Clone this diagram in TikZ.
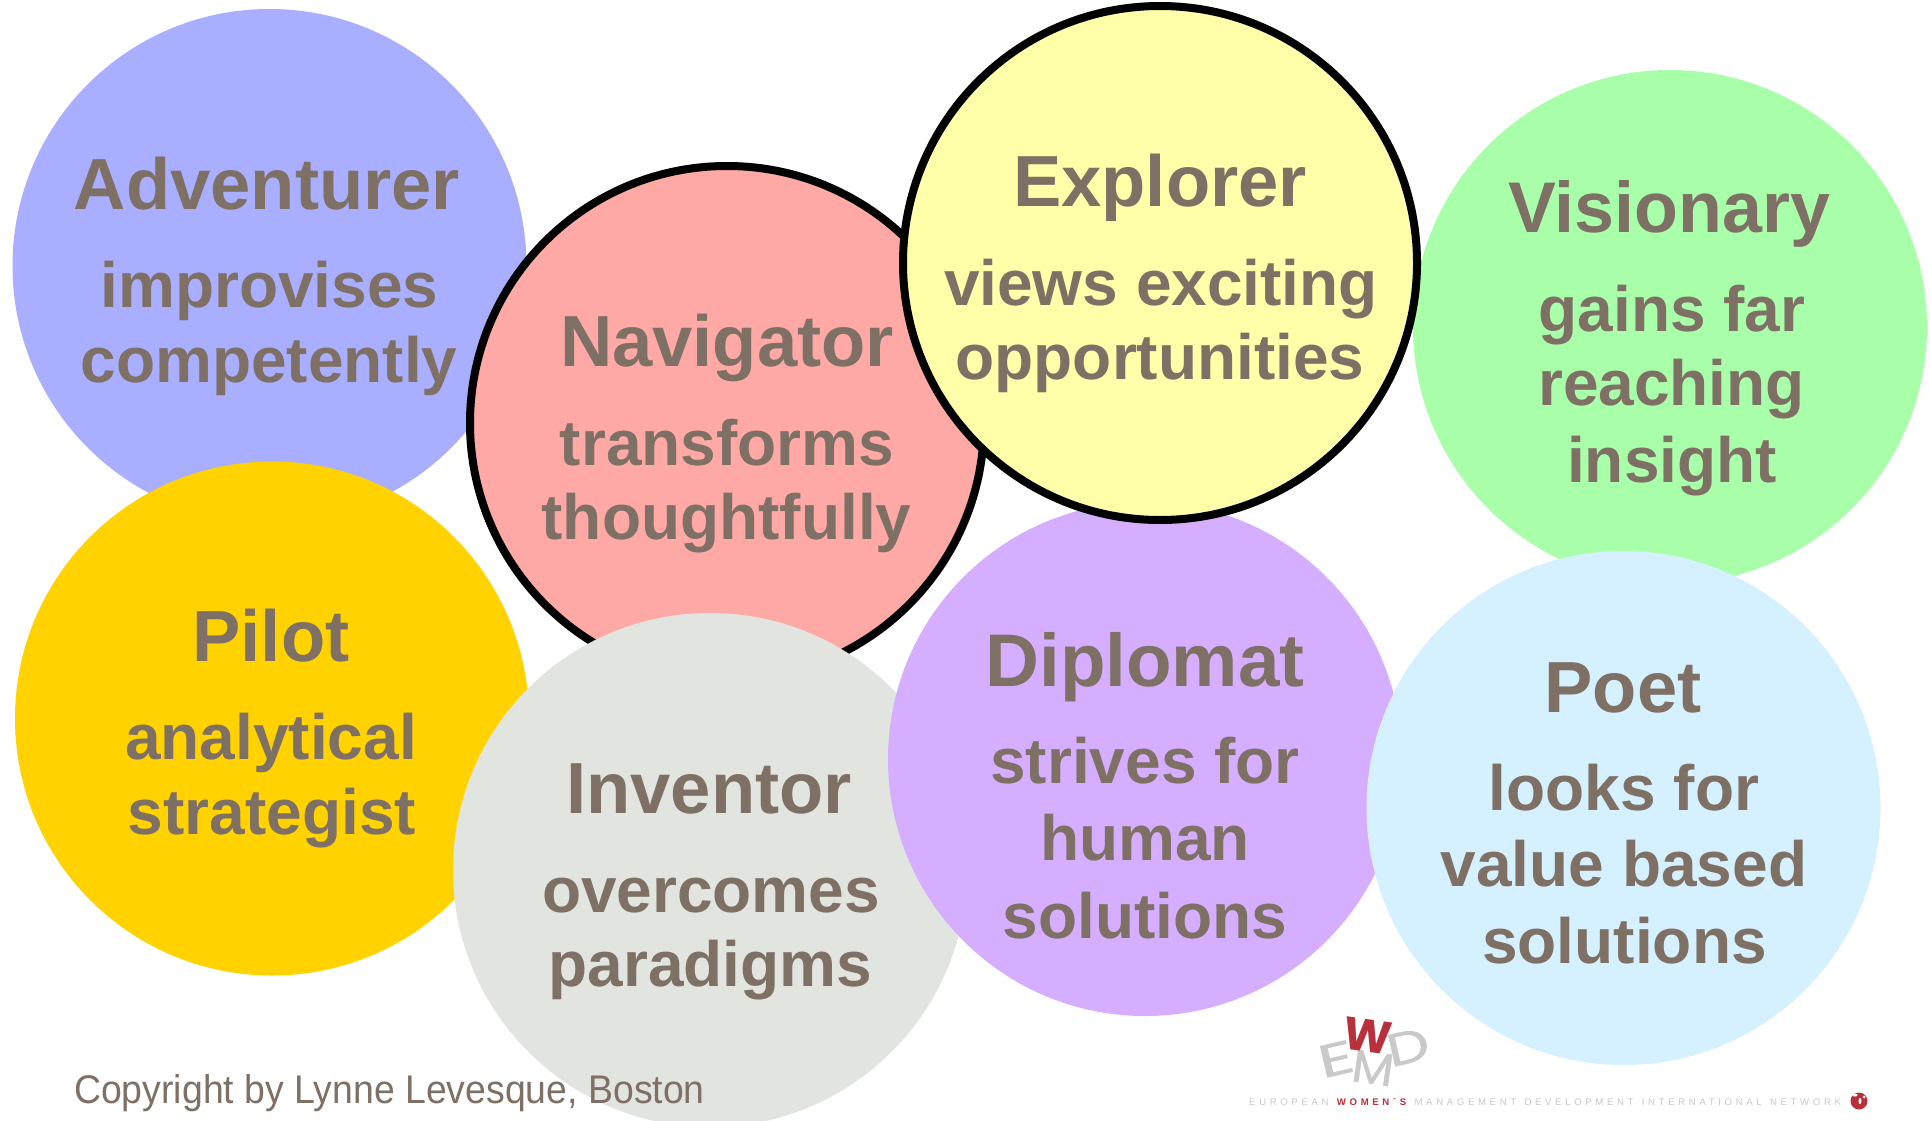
\documentclass[tikz,border=0pt]{standalone}
\usepackage{fontspec}
\setmainfont{Liberation Sans}
\newfontfamily\logofont[FakeBold=0.8]{Poppins}
\newfontfamily\logofontb{Poppins}
\definecolor{txt}{HTML}{7F7065}
\definecolor{cA}{HTML}{A9AEFF}
\definecolor{cN}{HTML}{FFA9A6}
\definecolor{cE}{HTML}{FFFFA9}
\definecolor{cV}{HTML}{A9FFA9}
\definecolor{cP}{HTML}{FFD200}
\definecolor{cI}{HTML}{E2E5DF}
\definecolor{cD}{HTML}{D6AEFF}
\definecolor{cO}{HTML}{D5F0FF}
\definecolor{ered}{HTML}{B8303C}
\definecolor{egrey}{HTML}{C9C9C9}
\tikzset{
  disc/.style={circle,minimum size=514pt,inner sep=0pt,outer sep=0pt,fill=#1},
  ringed/.style={draw=black,line width=8pt},
  ttl/.style={anchor=base,inner sep=0pt,text=txt,font=\fontsize{72.4}{72}\selectfont\bfseries},
  bdy/.style={anchor=base,inner sep=0pt,text=txt,font=\fontsize{64}{64}\selectfont\bfseries},
  logoletter/.style={inner sep=0pt,transform shape,text=egrey,font=\logofont\fontsize{46}{46}\selectfont},
}
\begin{document}
\begin{tikzpicture}[x=1pt,y=-1pt]
\useasboundingbox (0,0) rectangle (1930,1121);
\fill[white] (0,0) rectangle (1930,1121);
\node[disc=cA] (adv) at (269.5,266) {};
\node[disc=cV] (vis) at (1670,327) {};
\node[disc=cP] (pil) at (272,718.5) {};
\node[disc=cN,ringed] (nav) at (727,423) {};
\node[disc=cI] (inv) at (710,870) {};
\node[disc=cD] (dip) at (1145,759) {};
\node[disc=cE,ringed] (exp) at (1160,263) {};
\node[disc=cO] (poe) at (1623.5,808) {};
\node[ttl] (t1) at (267,209) {Adventurer};
\node[bdy] (b1a) at (269.5,307) {improvises};
\node[bdy] (b1b) at (269,382) {competently};
\node[ttl] (t2) at (727,366) {Navigator};
\node[bdy] (b2a) at (727,465) {transforms};
\node[bdy] (b2b) at (726.5,539) {thoughtfully};
\node[ttl] (t3) at (1160,206) {Explorer};
\node[bdy] (b3a) at (1161,305) {views exciting};
\node[bdy] (b3b) at (1160,379) {opportunities};
\node[ttl,font=\fontsize{71.8}{72}\selectfont\bfseries] (t4) at (1669,232) {Visionary};
\node[bdy] (b4a) at (1672,331) {gains far};
\node[bdy] (b4b) at (1671.5,405) {reaching};
\node[bdy] (b4c) at (1672,482) {insight};
\node[ttl] (t5) at (271,661) {Pilot};
\node[bdy] (b5a) at (271,759) {analytical};
\node[bdy] (b5b) at (272,834) {strategist};
\node[ttl] (t6) at (709,813) {Inventor};
\node[bdy] (b6a) at (711,912) {overcomes};
\node[bdy] (b6b) at (710.5,986) {paradigms};
\node[ttl,font=\fontsize{74.6}{72}\selectfont\bfseries] (t7) at (1145,686) {Diplomat};
\node[bdy] (b7a) at (1145,783.5) {strives for};
\node[bdy] (b7b) at (1145,860) {human};
\node[bdy] (b7c) at (1145,938) {solutions};
\node[ttl] (t8) at (1623,712) {Poet};
\node[bdy] (b8a) at (1624,810) {looks for};
\node[bdy] (b8b) at (1624,886) {value based};
\node[bdy] (b8c) at (1624.5,963) {solutions};
\node[anchor=base west,inner sep=0pt,text=txt,transform shape,xscale=0.935,font=\fontsize{40}{40}\selectfont] (copy) at (74,1103.5) {Copyright by Lynne Levesque, Boston};
% logo
\node[logoletter,rotate=13,xscale=1.5] (le) at (1336,1059) {E};
\node[logoletter,rotate=-8,xscale=1.05] (lm) at (1373,1068) {M};
\node[logoletter,rotate=13,xscale=1.3] (ld) at (1408,1047) {D};
\node[logoletter,rotate=-8,text=ered,font=\logofontb\bfseries\fontsize{46}{46}\selectfont] (lw) at (1368,1036) {W};
\node[anchor=base west,inner sep=0pt,font=\fontsize{9.6}{10}\selectfont] (net) at (1249,1105) {\addfontfeatures{LetterSpace=38}\textcolor{egrey}{EUROPEAN}\hspace{2pt} \textcolor{ered}{\bfseries WOMEN´S}\hspace{2pt} \textcolor{egrey}{MANAGEMENT\hspace{2pt} DEVELOPMENT\hspace{2pt} INTERNATIONAL\hspace{2pt} NETWORK}};
\fill[ered] (1859,1101) circle (8.5pt);
\fill[white] (1855,1095) ellipse (2.5pt and 1.5pt);
\fill[white] (1860,1101) ellipse (1.5pt and 3pt);
\fill[white] (1864,1097) ellipse (1.5pt and 1.5pt);
\end{tikzpicture}
\end{document}
